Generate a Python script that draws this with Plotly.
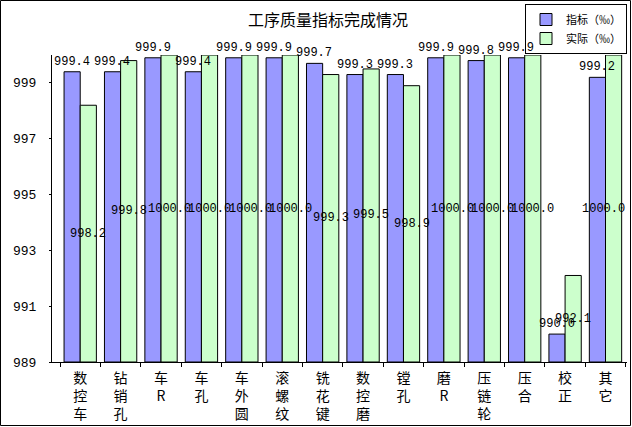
import plotly.graph_objects as go

# 工序质量指标完成情况 (‰)
categories = ["数<br>控<br>车", "钻<br>销<br>孔", "车<br>R", "车<br>孔", "车<br>外<br>圆",
              "滚<br>螺<br>纹", "铣<br>花<br>键", "数<br>控<br>磨", "镗<br>孔", "磨<br>R",
              "压<br>链<br>轮", "压<br>合", "校<br>正", "其<br>它"]
target = [999.4, 999.4, 999.9, 999.4, 999.9, 999.9, 999.7, 999.3, 999.3, 999.9,
          999.8, 999.9, 990.0, 999.2]
actual = [998.2, 999.8, 1000.0, 1000.0, 1000.0, 1000.0, 999.3, 999.5, 998.9, 1000.0,
          1000.0, 1000.0, 992.1, 1000.0]
y_ticks = [989, 991, 993, 995, 997, 999]
y_min, y_max = 989, 1000

W, H = 632, 427
L, R, T, B = 52, 5, 55, 65
pw, ph = W - L - R, H - T - B
bargap = 0.2
half_bar = pw / len(categories) * (1 - bargap) / 4  # px from category centre to bar centre

label_font = dict(family="Liberation Mono", size=12, color="black")
cjk = "Noto Sans CJK SC"

fig = go.Figure()
fig.add_trace(go.Bar(
    x=categories, y=[v - y_min for v in target], base=y_min, name="指标（‰）",
    marker=dict(color="#9999FF", line=dict(color="black", width=1)),
))
fig.add_trace(go.Bar(
    x=categories, y=[v - y_min for v in actual], base=y_min, name="实际（‰）",
    marker=dict(color="#CCFFCC", line=dict(color="black", width=1)),
))

# value labels drawn as annotations so they sit above every bar
annotations = []
for i, c in enumerate(categories):
    annotations.append(dict(
        x=c, y=target[i], text=f"{target[i]:.1f}", showarrow=False,
        xshift=-half_bar, yshift=1, yanchor="bottom", font=label_font,
    ))
    last = i == len(categories) - 1
    annotations.append(dict(
        x=c, y=(y_min + actual[i]) / 2, text=f"{actual[i]:.1f}", showarrow=False,
        xshift=-2 if last else half_bar, yanchor="middle", font=label_font,
    ))

fig.update_layout(
    width=W, height=H, autosize=False,
    margin=dict(l=L, r=R, t=T, b=B, autoexpand=False),
    paper_bgcolor="white", plot_bgcolor="white",
    barmode="group", bargap=bargap, bargroupgap=0,
    title=dict(text="工序质量指标完成情况", x=328 / W, xanchor="center",
               y=1 - 20 / H, yanchor="middle",
               font=dict(family=cjk, size=16, color="black")),
    font=dict(family=cjk, size=13, color="black"),
    showlegend=True,
    legend=dict(x=1.0, y=(362 - 4) / ph, xanchor="right", yanchor="top",
                bordercolor="black", borderwidth=1, bgcolor="white",
                font=dict(family=cjk, size=11, color="black"),
                itemwidth=30, tracegroupgap=0),
    xaxis=dict(showgrid=False, showline=True, linecolor="black", linewidth=1,
               ticks="outside", ticklen=4, tickcolor="black", tickson="boundaries",
               tickfont=dict(family=cjk, size=14, color="black"), tickangle=0,
               ticklabelstandoff=3, automargin=False),
    yaxis=dict(range=[y_min, y_max], showgrid=False, zeroline=False,
               showline=True, linecolor="black", linewidth=1,
               ticks="outside", ticklen=2, tickcolor="black",
               tickvals=y_ticks, ticktext=[str(v) for v in y_ticks],
               tickfont=dict(family="Liberation Mono", size=13, color="black"),
               ticklabelstandoff=10, automargin=False),
    annotations=annotations,
    shapes=[dict(type="rect", xref="paper", yref="paper",
                 x0=-(L - 0.5) / pw, x1=(W - L - 1.5) / pw,
                 y0=-(B - 1.5) / ph, y1=(H - B - 0.5) / ph,
                 line=dict(color="black", width=1))],
)

fig.write_html(
    "out.html",
    config={"displayModeBar": False},
    post_script="document.body.style.margin='0';document.body.style.overflow='hidden';",
)
